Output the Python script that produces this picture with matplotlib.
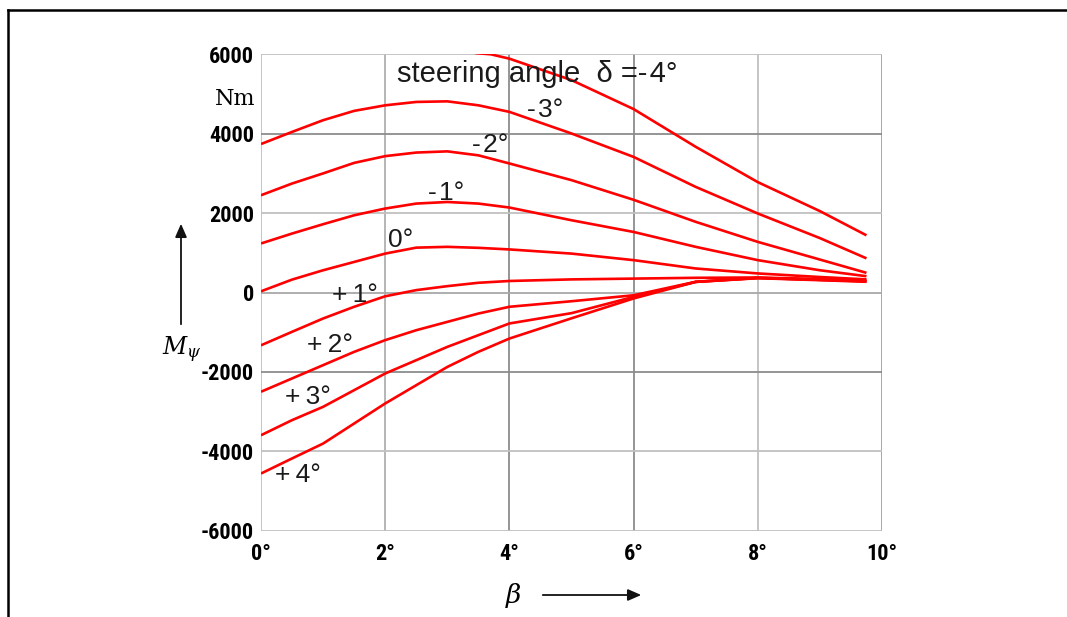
"""Yaw moment M_psi vs side-slip angle beta for several steering angles."""

import matplotlib
matplotlib.use("Agg")
import matplotlib.pyplot as plt
from matplotlib.lines import Line2D
from matplotlib.patches import FancyArrowPatch
import logging

logging.getLogger("matplotlib.font_manager").setLevel(logging.ERROR)
plt.rcParams["mathtext.fontset"] = "dejavuserif"

# curves: beta [deg], M_psi [Nm]
beta_m4 = [3.45, 3.7, 4.0, 5.0, 6.0, 7.0, 8.0, 9.0, 9.75]
m_m4 = [6030, 6000, 5890, 5350, 4620, 3670, 2780, 2050, 1440]

beta_std = [0, 0.5, 1, 1.5, 2, 2.5, 3, 3.5, 4, 5, 6, 7, 8, 9, 9.75]
m_m3 = [3740, 4045, 4340, 4575, 4715, 4800, 4815, 4715, 4550, 4005, 3415, 2660, 1990, 1370, 860]
m_m2 = [2450, 2745, 3000, 3265, 3435, 3525, 3555, 3455, 3250, 2830, 2335, 1780, 1275, 830, 495]
m_m1 = [1235, 1485, 1720, 1945, 2115, 2240, 2280, 2240, 2140, 1820, 1525, 1150, 815, 560, 410]
m_0 = [30, 325, 560, 770, 980, 1130, 1150, 1125, 1085, 980, 815, 605, 480, 390, 330]
m_p1 = [-1330, -990, -655, -360, -95, 60, 160, 245, 290, 330, 350, 370, 378, 340, 300]
m_p2 = [-2500, -2165, -1830, -1495, -1200, -950, -740, -530, -360, -220, -70, 270, 370, 320, 280]
m_p3 = [-3595, -3215, -2880, -2460, -2040, -1705, -1370, -1075, -780, -520, -110, 267, 365, 320, 290]
m_p4 = [-4560, -4180, -3805, -3300, -2795, -2335, -1875, -1495, -1160, -650, -150, 267, 360, 310, 270]

curves = [
    (beta_m4, m_m4), (beta_std, m_m3), (beta_std, m_m2), (beta_std, m_m1),
    (beta_std, m_0), (beta_std, m_p1), (beta_std, m_p2), (beta_std, m_p3),
    (beta_std, m_p4),
]

# curve labels: text, beta, M (baseline-left)
labels = ["steering angle  \u03b4 =-\u200a4\u00b0", "-\u200a3\u00b0", "-\u200a2\u00b0",
          "-\u200a1\u00b0", "0\u00b0", "+\u20091\u00b0", "+\u20092\u00b0",
          "+\u20093\u00b0", "+\u20094\u00b0"]
label_beta = [2.19, 4.28, 3.40, 2.69, 2.05, 1.14, 0.74, 0.39, 0.23]
label_m = [5297, 4424, 3542, 2325, 1149, -237, -1496, -2796, -4771]

x_ticks = [0, 2, 4, 6, 8, 10]
x_ticklabels = ["0\u00b0", "2\u00b0", "4\u00b0", "6\u00b0", "8\u00b0", "10\u00b0"]
y_ticks = [-6000, -4000, -2000, 0, 2000, 4000, 6000]
y_ticklabels = ["-6000", "-4000", "-2000", "0", "2000", "4000", "6000"]

W, H = 1067, 617
fig = plt.figure(figsize=(W / 100, H / 100), dpi=100)
ax = fig.add_axes([261 / W, 1 - 530.7 / H, (882 - 261) / W, (530.7 - 54.3) / H])

for bx, my in curves:
    ax.plot(bx, my, color="#ff0000", linewidth=1.9, solid_capstyle="butt")

for i, (txt, bx, my) in enumerate(zip(labels, label_beta, label_m)):
    ax.text(bx, my, txt, ha="left", va="baseline",
            fontsize=21 if i == 0 else 19,
            family=["Liberation Sans", "DejaVu Sans"], color="#1a1a1a")

ax.set_xlim(0, 10)
ax.set_ylim(-6000, 6000)
ax.set_xticks(x_ticks)
ax.set_xticklabels(x_ticklabels)
ax.set_yticks(y_ticks)
ax.set_yticklabels(y_ticklabels)
ax.tick_params(length=0, pad=5)
ax.tick_params(axis="x", pad=9)
tick_family = ["Roboto Condensed", "DejaVu Sans Condensed", "Liberation Sans Narrow",
               "Liberation Sans", "DejaVu Sans"]
for lab in ax.get_xticklabels() + ax.get_yticklabels():
    lab.set_family(tick_family)
    lab.set_fontweight("bold")
    lab.set_fontsize(16)

ax.grid(True, linewidth=1.3)
ax.set_axisbelow(True)
for gl, c in zip(ax.get_ygridlines(), ["#c0c0c0", "#c0c0c0", "#8c8c8c", "#a8a8a8",
                                       "#c0c0c0", "#8c8c8c", "#c0c0c0"]):
    gl.set_color(c)
for gl, c in zip(ax.get_xgridlines(), ["#c0c0c0", "#b0b0b0", "#8c8c8c", "#8c8c8c",
                                       "#c0c0c0", "#a0a0a0"]):
    gl.set_color(c)
for side in ax.spines.values():
    side.set_visible(False)

# units and axis symbols
fig.text(255 / W, 1 - 105 / H, "Nm", ha="right", va="baseline", fontsize=16,
         family="DejaVu Serif")
fig.text(162 / W, 1 - 355 / H, r"$M_\psi$", ha="left", va="baseline", fontsize=17)
fig.text(505 / W, 1 - 603 / H, r"$\beta$", ha="left", va="baseline", fontsize=19)
fig.add_artist(FancyArrowPatch(
    (181 / W, 1 - 327 / H), (181 / W, 1 - 221 / H), transform=fig.transFigure,
    arrowstyle="-|>,head_length=8,head_width=3.5", color="#111111", linewidth=1.3))
fig.add_artist(FancyArrowPatch(
    (540 / W, 1 - 595 / H), (644 / W, 1 - 595 / H), transform=fig.transFigure,
    arrowstyle="-|>,head_length=8,head_width=3.5", color="#111111", linewidth=1.3))

# page frame: top and left rule
fig.add_artist(Line2D([8 / W, 1], [1 - 10 / H, 1 - 10 / H], color="black", linewidth=1.8,
                      transform=fig.transFigure))
fig.add_artist(Line2D([8 / W, 8 / W], [0, 1 - 10 / H], color="black", linewidth=1.8,
                      transform=fig.transFigure))

fig.savefig("out.png", dpi=100)
